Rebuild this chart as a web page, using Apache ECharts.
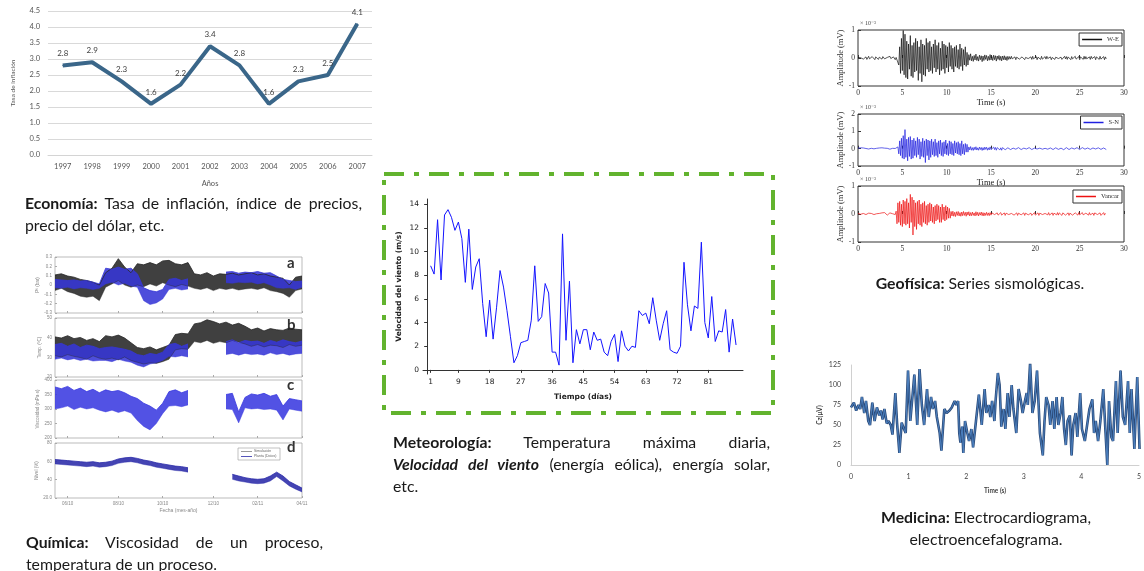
<!DOCTYPE html>
<html>
<head>
<meta charset="utf-8">
<script src="https://cdn.jsdelivr.net/npm/echarts/dist/echarts.min.js"></script>
<style>
    html, body { margin: 0; padding: 0; background: #fff; }
    #wrap { position: relative; width: 1144px; height: 571px; overflow: hidden; }
    #main { position: absolute; left: 0; top: 0; width: 1144px; height: 571px; }
    .cap { position: absolute; font-family: Lato, 'Open Sans', sans-serif; font-size: 15.8px; line-height: 22px; color: #1a1a1a; }
    .cap .j { text-align: justify; text-align-last: justify; white-space: nowrap; }
    .ctr { text-align: center; }
</style>
</head>
<body>
<div id="wrap">
    <div id="main"></div>
    <div class="cap" style="left:25px;top:192px;width:337px">
        <div class="j"><b>Economía:</b> Tasa de inflación, índice de precios,</div>
        <div>precio del dólar, etc.</div>
    </div>
    <div class="cap" style="left:26px;top:531px;width:297px">
        <div class="j"><b>Química:</b> Viscosidad de un proceso,</div>
        <div>temperatura de un proceso.</div>
    </div>
    <div class="cap" style="left:393px;top:431px;width:377px">
        <div class="j"><b>Meteorología:</b> Temperatura máxima diaria,</div>
        <div class="j"><b><i>Velocidad del viento</i></b> (energía eólica), energía solar,</div>
        <div>etc.</div>
    </div>
    <div class="cap ctr" style="left:830px;top:272px;width:300px">
        <b>Geofísica:</b> Series sismológicas.
    </div>
    <div class="cap ctr" style="left:836px;top:506px;width:300px">
        <b>Medicina:</b> Electrocardiograma,<br>electroencefalograma.
    </div>
</div>
<script>
// --- Economía: tasa de inflación
var ecoYears = ['1997', '1998', '1999', '2000', '2001', '2002', '2003', '2004', '2005', '2006', '2007'];
var ecoRate = [2.8, 2.9, 2.3, 1.6, 2.2, 3.4, 2.8, 1.6, 2.3, 2.5, 4.1];

// --- Meteorología: velocidad del viento (m/s), días 1..89
var windSpeed = [8.8, 8.1, 12.7, 7.6, 13.1, 13.55, 12.9, 11.8, 12.5, 11.1,
    7.4, 11.9, 6.8, 8.7, 9.4, 5.6, 2.8, 5.9, 2.6, 5.3,
    8.4, 7.0, 5.0, 2.8, 0.6, 1.2, 2.3, 2.4, 2.5, 4.2,
    8.8, 4.1, 4.5, 7.3, 6.5, 1.5, 1.5, 0.4, 11.5, 2.5,
    7.5, 0.6, 3.4, 2.2, 3.4, 3.4, 1.7, 3.2, 2.5, 2.6,
    1.5, 1.2, 2.4, 3.0, 0.7, 3.3, 2.0, 1.6, 2.0, 1.9,
    5.0, 4.6, 4.8, 3.9, 6.1, 4.2, 2.5, 3.9, 5.0, 1.7,
    1.5, 1.4, 2.0, 9.1, 5.5, 3.3, 5.4, 5.2, 10.8, 4.0,
    2.7, 6.2, 2.4, 3.3, 3.2, 5.1, 1.5, 4.3, 2.1];
var windTicks = [1, 9, 18, 27, 36, 45, 54, 63, 72, 81];

// --- Medicina: EEG canal Cz (tiempo s / valor uV)
var eegT = [0, .05, .09, .13, .16, .19, .23, .26, .30, .33, .37, .41, .45, .49, .52, .55, .58, .62, .65, .69,
    .72, .77, .80, .84, .88, .92, .95, .99, 1.03, 1.10, 1.15, 1.19, 1.23, 1.27, 1.32, 1.35, 1.39, 1.42, 1.46, 1.49,
    1.54, 1.57, 1.62, 1.66, 1.71, 1.75, 1.80, 1.83, 1.86, 1.88, 1.90, 1.93, 1.95, 1.98, 2.02, 2.05, 2.09, 2.12, 2.17, 2.22,
    2.27, 2.32, 2.35, 2.39, 2.42, 2.45, 2.49, 2.51, 2.55, 2.58, 2.61, 2.65, 2.68, 2.72, 2.75, 2.79, 2.82, 2.87, 2.91, 2.95,
    2.98, 3.02, 3.05, 3.07, 3.11, 3.15, 3.19, 3.23, 3.28, 3.33, 3.36, 3.39, 3.43, 3.46, 3.50, 3.53, 3.57, 3.60, 3.64, 3.67,
    3.70, 3.73, 3.76, 3.80, 3.83, 3.86, 3.90, 3.93, 3.98, 4.01, 4.06, 4.11, 4.14, 4.19, 4.22, 4.25, 4.29, 4.33, 4.38, 4.42,
    4.45, 4.48, 4.52, 4.55, 4.60, 4.63, 4.68, 4.72, 4.76, 4.81, 4.84, 4.87, 4.92, 4.97, 5.01];
var eegV = [72, 78, 68, 75, 70, 85, 65, 80, 55, 50, 78, 55, 72, 62, 68, 57, 70, 52, 55, 50,
    38, 90, 52, 15, 53, 45, 40, 118, 55, 113, 50, 120, 75, 50, 95, 60, 85, 70, 80, 60,
    40, 18, 70, 65, 68, 72, 80, 75, 80, 40, 28, 48, 15, 55, 40, 30, 45, 22, 55, 88,
    50, 95, 65, 75, 60, 80, 55, 80, 115, 100, 48, 70, 45, 90, 60, 100, 70, 40, 95, 80,
    65, 80, 90, 75, 128, 65, 80, 118, 40, 12, 55, 85, 75, 50, 80, 45, 85, 50, 65, 85,
    45, 25, 55, 62, 12, 50, 65, 35, 90, 45, 30, 55, 70, 82, 40, 55, 30, 55, 95, 40,
    0, 80, 35, 30, 105, 40, 118, 60, 50, 105, 40, 95, 20, 110, 20];

// --- Geofísica: amplitud (x10^-3 mV, en centésimas), paso 0.1 s, 0..28 s
var seisStep = 0.1;
var seisWE = [
    2, -3, 4, 1, -2, 5, -4, 3, -1, 4, -5, 2, 6, -3, 1, -4, 5, -2, 3, -6, 4, -1, 2, -5, 3, 6, -2, -4, 5, 1,
    -3, 4, -5, 2, 3, -4, 6, -2, 1, -5, 4, 3, -6, 2, -3,
    8, -25, 40, -55, 70, -45, 98, -60, 85, -70, 60, -75, 50, -40, 80, -65, 45, -70, 55, -50,
    70, -45, 60, -80, 40, -55, 65, -85, 50, -60, 45, -65, 70, -40, 55, -50, 60, -45, 40, -55,
    50, -35, 65, -50, 45, -40, 55, -60, 35, -45, 60, -40, 50, -55, 45, -35, 40, -50, 55, -30,
    45, -40, 35, -50, 40, -30, 45, -35, 30, -40, 50, -30, 35, -45, 30, -25, 40, -30, 20, -25,
    12, -8, 15, -10, 6, -12, 9, -7, 14, -9, 5, -11, 10, -6, 8, -13, 7, -9, 11, -5, 9, -10, 6, -8, 12,
    -7, 5, -9, 10, -6, 8, -11, 7, -5, 9, -8, 6, -10, 7, -6, 8, -7, 5, -9, 6, -5,
    5, -4, 6, -3, 2, -5, 4, -6, 3, -2, 6, -4, 1, -5, 4, -3, 5, -6, 2, -4, 5, -2, 3, -6, 4, -5, 6, -3, 2, -4,
    5, -6, 3, -2, 4, -5, 6, -4, 1, -3, 5, -4, 6, -2, 3, -5, 4, -6, 2, -3, 6, -5, 3, -4, 5, -2, 4, -6, 3, -5,
    2, -4, 6, -3, 5, -5, 4, -2, 3, -6, 5, -3, 4, -5, 6, -4, 2, -3, 5, -6, 4, -2, 3, -5, 6, -4, 5, -3, 2, -6,
    4, -5, 6, -2, 3, -4, 5, -6, 4, -3, 2, -5, 6, -4, 3, -2, 5, -6, 4, -3];
var seisSN = [
    3, -4, 2, 5, -3, -1, 4, -5, 3, 1, -4, 6, -2, 3, -5, 2, 4, -3, -1, 5, -4, 2, 3, -6, 4, 1, -3, 5, -2, -4,
    3, 6, -5, 2, -1, 4, -3, 5, -6, 2, 3, -4, 1, 5, -3,
    10, -30, 45, -40, 60, -55, 75, -60, 110, -50, 55, -70, 65, -45, 70, -60, 50, -55, 60, -40,
    45, -50, 65, -35, 55, -60, 40, -45, 60, -50, 45, -80, 55, -40, 50, -65, 45, -50, 55, -35,
    40, -45, 55, -40, 35, -50, 45, -30, 50, -40, 35, -45, 40, -30, 50, -35, 30, -40, 45, -30,
    40, -35, 30, -40, 45, -25, 35, -30, 40, -35, 30, -40, 45, -30, 25, -35, 30, -20, 25, -20,
    10, -7, 12, -9, 6, -10, 8, -6, 11, -8, 5, -9, 9, -5, 7, -10, 6, -8, 9, -4, 8, -9, 5, -7, 10,
    -6, 4, -8, 9, -5, 7, -9, 6, -4, 8, -7, 5, -9, 6, -5, 7, -6, 4, -8, 5, -4,
    4, -5, 6, -2, 3, -6, 5, -3, 4, -4, 6, -3, 2, -5, 5, -4, 3, -6, 4, -2, 5, -4, 6, -3, 2, -5, 4, -6, 3, -4,
    6, -2, 4, -5, 3, -6, 5, -3, 4, -5, 2, -4, 6, -3, 5, -2, 4, -6, 3, -5, 4, -3, 5, -6, 2, -4, 6, -5, 3, -2,
    5, -6, 4, -3, 6, -4, 2, -5, 5, -3, 4, -6, 3, -2, 5, -4, 6, -3, 4, -5, 3, -4, 6, -5, 2, -3, 5, -6, 4, -2,
    6, -4, 3, -5, 4, -6, 5, -2, 3, -4, 5, -3, 6, -4, 2, -5, 4, -6, 3, -5];
var seisVA = [
    2, -3, 4, -1, 3, -4, 2, 5, -3, -2, 4, -5, 3, 1, -4, 2, -3, 5, -2, 4, -3, 1, 5, -4, 2, -5, 3, 4, -2, -3,
    5, -1, 2, -4, 3, -5, 4, 2, -3, 1, -4, 3, -2,
    10, -35, 40, -30, 45, -40, 35, -45, 50, -35, 45, -40, 55, -35, 40, -50, 70, -30, 60, -75,
    50, -45, 40, -55, 45, -35, 50, -40, 35, -45, 40, -30, 45, -35, 30, -40, 35, -30, 40, -25,
    35, -30, 25, -35, 30, -25, 35, -20, 30, -30, 25, -30, 35, -20, 25, -25, 30, -20, 25, -15, 20, -15,
    9, -7, 10, -8, 6, -9, 8, -5, 9, -7, 5, -8, 7, -6, 9, -5, 6, -8, 7, -4, 8, -7, 5, -6, 7,
    -5, 4, -7, 8, -5, 6, -7, 5, -4, 7, -6, 5, -7, 4, -5, 6, -5, 4, -6, 5, -4,
    4, -3, 5, -2, 3, -5, 4, -4, 2, -3, 5, -4, 3, -2, 4, -5, 3, -3, 5, -2, 4, -5, 2, -3, 5, -4, 3, -2, 4, -5,
    3, -4, 5, -3, 2, -4, 4, -5, 3, -2, 5, -3, 4, -4, 3, -5, 2, -3, 5, -4, 3, -2, 4, -5, 3, -4, 5, -2, 4, -3,
    2, -5, 4, -3, 5, -4, 3, -2, 4, -5, 3, -4, 2, -3, 5, -4, 4, -2, 3, -5, 4, -3, 5, -4, 2, -3, 4, -5, 3, -2,
    5, -4, 3, -5, 4, -2, 3, -4, 5, -3, 2, -4, 5, -3, 4, -5, 3, -2, 4, -4, 5, -3, 2, -4, 3, -5, 4, -3, 5, -2,
    3, -4, 4, -5, 2, -3, 5, -4, 3, -2];

// --- Química: bandas (mínimo / máximo) en escala 0-100 de cada panel, 40 muestras
var chemALoBlack = [40, 44, 38, 35, 30, 28, 30, 22, 46, 52, 58, 50, 46, 50, 47, 52, 48, 54, 50, 47,
    51, 48, 44, 42, 45, 40, 44, 42, 44, 41, 43, 44, 42, 45, 40, 38, 35, 28, 40, 43];
var chemAHiBlack = [68, 70, 66, 64, 60, 58, 55, 50, 72, 80, 97, 82, 72, 88, 86, 90, 86, 93, 94, 88,
    86, 90, 70, 68, 72, 66, 70, 69, 71, 68, 70, 72, 68, 70, 66, 64, 62, 50, 64, 66];
var chemALoBlue = [45, 44, 46, 43, 45, 44, 42, 44, 52, 55, 50, 53, 48, 46, 22, 15, 18, 25, 42, 44,
    41, 43, null, null, null, null, null, 54, 53, 55, 54, 55, 52, 54, 50, 45, 44, 45, 42, 46];
var chemAHiBlue = [60, 59, 58, 59, 57, 58, 55, 52, 80, 78, 82, 78, 80, 70, 45, 40, 38, 42, 60, 62,
    58, 61, null, null, null, null, null, 73, 74, 71, 73, 72, 74, 71, 72, 66, 60, 58, 56, 57];
var chemBLoBlack = [36, 34, 38, 35, 33, 30, 36, 32, 30, 32, 29, 34, 28, 25, 22, 24, 23, 26, 30, 46,
    48, 47, 60, 58, 62, 57, 60, 58, 62, 59, 56, 52, 55, 51, 54, 53, 50, 55, 52, 54];
var chemBHiBlack = [68, 66, 70, 65, 67, 62, 65, 60, 70, 68, 71, 66, 58, 50, 48, 51, 46, 50, 54, 72,
    74, 73, 90, 92, 97, 94, 90, 93, 88, 91, 86, 80, 83, 78, 82, 80, 79, 83, 81, 80];
var chemBLoBlue = [30, 32, 29, 31, 28, 30, 27, 28, 28, 26, 30, 27, 25, 20, 17, 22, 24, 28, 35, 34,
    36, 34, null, null, null, null, null, 38, 40, 37, 40, 38, 39, 37, 41, 38, 40, 37, 39, 40];
var chemBHiBlue = [55, 57, 52, 56, 50, 54, 52, 48, 50, 51, 49, 47, 44, 38, 36, 40, 38, 42, 55, 57,
    52, 56, null, null, null, null, null, 60, 63, 58, 62, 60, 61, 57, 62, 59, 63, 60, 58, 61];
var chemCLoBlue = [50, 52, 55, 49, 53, 50, 52, 48, 45, 48, 44, 47, 43, 30, 20, 14, 25, 42, 55, 56,
    54, 57, null, null, null, null, null, 50, 49, 26, 52, 50, 51, 49, 50, 48, 31, 50, 48, 46];
var chemCHiBlue = [88, 85, 89, 82, 86, 80, 84, 78, 83, 80, 82, 78, 72, 68, 60, 55, 48, 60, 80, 83,
    78, 82, null, null, null, null, null, 75, 77, 45, 70, 76, 74, 77, 72, 75, 55, 68, 66, 64];
var chemDLoBlue = [62, 61, 60, 59, 58, 57, 58, 56, 57, 59, 63, 65, 66, 64, 61, 59, 56, 54, 52, 50,
    49, 47, null, null, null, null, null, null, 34, 31, 29, 27, 26, 27, 31, 39, 31, 22, 16, 11];
var chemDHiBlue = [70, 69, 68, 67, 66, 65, 66, 64, 65, 67, 71, 73, 74, 72, 69, 67, 64, 62, 60, 58,
    57, 55, null, null, null, null, null, null, 43, 40, 37, 35, 34, 35, 40, 47, 40, 30, 24, 18];
var chemLabelsA = ['-0.3', '-0.2', '-0.1', '0', '0.1', '0.2', '0.3'];
var chemLabelsB = ['20', '30', '40', '50'];
var chemLabelsC = ['200', '250', '300', '350', '400'];
var chemLabelsD = ['20.0', '40', '60', '80'];
var chemDateIdx = [2, 10, 17, 25, 32, 39];
var chemDates = ['06/10', '08/10', '10/10', '12/10', '02/11', '04/11'];

var lato = "Lato, 'Open Sans', sans-serif";
var serif = "'Liberation Serif', 'DejaVu Serif', serif";
var dejavu = "'DejaVu Sans', Verdana, sans-serif";

function indexed(arr, step) {
    return arr.map(function (v, i) { return [i * step, v]; });
}

// muestras de los paneles de química (eje de categorías 0..39)
var chemCats = chemALoBlack.map(function (v, i) { return String(i); });

// banda rellena: serie base invisible + serie apilada con el grosor
function chemBand(gi, key, lo, hi, color) {
    var width = hi.map(function (h, i) { return h === null ? null : h - lo[i]; });
    return [
        { name: key + '-lo', type: 'line', xAxisIndex: gi, yAxisIndex: gi, stack: key, data: lo,
          symbol: 'none', lineStyle: { color: color, width: 0.6, opacity: 0.7 }, silent: true },
        { name: key + '-hi', type: 'line', xAxisIndex: gi, yAxisIndex: gi, stack: key, data: width,
          symbol: 'none', lineStyle: { color: color, width: 0.8 }, areaStyle: { color: color, opacity: 0.88 }, silent: true }
    ];
}

function chemXAxis(gi, showLabels) {
    var pick = function (i) { return chemDateIdx.indexOf(i) >= 0; };
    return {
        gridIndex: gi, type: 'category', data: chemCats, boundaryGap: false,
        axisLine: { show: false },
        axisTick: { show: true, inside: true, length: 2, interval: pick, lineStyle: { color: '#aaa' } },
        splitLine: { show: false },
        axisLabel: {
            show: showLabels, fontSize: 4.5, color: '#888', margin: 3, interval: pick,
            formatter: function (v, i) { return chemDates[chemDateIdx.indexOf(i)]; }
        },
        name: showLabels ? 'Fecha (mes-año)' : '', nameLocation: 'middle', nameGap: 10,
        nameTextStyle: { fontSize: 5, color: '#888' }
    };
}

function chemYAxis(gi, labels, title) {
    var step = 100 / (labels.length - 1);
    return {
        gridIndex: gi, type: 'value', min: 0, max: 100, interval: step,
        axisLine: { show: false },
        axisTick: { show: true, inside: true, length: 2, lineStyle: { color: '#aaa' } },
        splitLine: { show: false },
        axisLabel: { fontSize: 4.5, color: '#888', margin: 3, formatter: function (v) { return labels[Math.round(v / step)]; } },
        name: title, nameLocation: 'middle', nameGap: 13, nameTextStyle: { fontSize: 4.5, color: '#888' }
    };
}

function seisXAxis(gi, withName) {
    return {
        gridIndex: gi, type: 'value', min: 0, max: 30, interval: 5,
        axisLine: { show: false },
        axisTick: { show: true, inside: true, length: 3, lineStyle: { color: '#333' } },
        splitLine: { show: false },
        axisLabel: { fontSize: 7.5, color: '#333', fontFamily: serif, margin: 3 },
        name: withName ? 'Time (s)' : '', nameLocation: 'middle', nameGap: 8,
        nameTextStyle: { fontSize: 8.5, color: '#222', fontFamily: serif }
    };
}

function seisYAxis(gi, min, max) {
    return {
        gridIndex: gi, type: 'value', min: min, max: max, interval: 100,
        axisLine: { show: false },
        axisTick: { show: true, inside: true, length: 3, lineStyle: { color: '#333' } },
        splitLine: { show: false },
        axisLabel: { fontSize: 7.5, color: '#333', fontFamily: serif, margin: 3, formatter: function (v) { return String(v / 100); } },
        name: 'Amplitude (mV)', nameLocation: 'middle', nameGap: 13,
        nameTextStyle: { fontSize: 8.5, color: '#333', fontFamily: serif }
    };
}

function seisLegend(name, top) {
    return {
        data: [name], right: 22, top: top, orient: 'horizontal', icon: 'rect',
        backgroundColor: '#fff', borderColor: '#333', borderWidth: 1, padding: [3, 3],
        itemWidth: 20, itemHeight: 1.5, itemGap: 2,
        textStyle: { fontSize: 6.5, color: '#333', fontFamily: serif }
    };
}

var series = [
    {
        name: 'Tasa', type: 'line', xAxisIndex: 0, yAxisIndex: 0, data: ecoRate,
        symbol: 'circle', symbolSize: 1, showSymbol: true,
        lineStyle: { color: '#3a6689', width: 4 }, itemStyle: { color: '#3a6689' },
        label: { show: true, position: 'top', distance: 7, fontSize: 8, color: '#404040', fontFamily: lato }
    }
];
series = series.concat(
    chemBand(1, 'aK', chemALoBlack, chemAHiBlack, '#262626'),
    chemBand(1, 'aB', chemALoBlue, chemAHiBlue, '#3636d6'),
    chemBand(2, 'bK', chemBLoBlack, chemBHiBlack, '#262626'),
    chemBand(2, 'bB', chemBLoBlue, chemBHiBlue, '#3636d6'),
    chemBand(3, 'cB', chemCLoBlue, chemCHiBlue, '#3a3ae0'),
    chemBand(4, 'dB', chemDLoBlue, chemDHiBlue, '#2a2aa8')
);
series = series.concat([
    {
        name: 'Viento', type: 'line', xAxisIndex: 5, yAxisIndex: 5,
        data: windSpeed.map(function (v, i) { return [i + 1, v]; }),
        symbol: 'none', lineStyle: { color: '#1414ff', width: 1 }
    },
    { name: 'W-E', type: 'line', xAxisIndex: 6, yAxisIndex: 6, data: indexed(seisWE, seisStep), symbol: 'none', color: '#111', lineStyle: { color: '#111', width: 0.7 } },
    { name: 'S-N', type: 'line', xAxisIndex: 7, yAxisIndex: 7, data: indexed(seisSN, seisStep), symbol: 'none', color: '#2020e0', lineStyle: { color: '#2020e0', width: 0.7 } },
    { name: 'Vancar', type: 'line', xAxisIndex: 8, yAxisIndex: 8, data: indexed(seisVA, seisStep), symbol: 'none', color: '#ee1111', lineStyle: { color: '#ee1111', width: 0.7 } },
    {
        name: 'Cz', type: 'line', xAxisIndex: 9, yAxisIndex: 9,
        data: eegT.map(function (t, i) { return [t, eegV[i]]; }),
        symbol: 'none', lineStyle: { color: '#2b4a78', width: 2.6 }
    },
    {
        name: 'Cz-hl', type: 'line', xAxisIndex: 9, yAxisIndex: 9,
        data: eegT.map(function (t, i) { return [t, eegV[i]]; }),
        symbol: 'none', lineStyle: { color: '#4f86c6', width: 0.9 }
    }
]);

var option = {
    animation: false,
    backgroundColor: '#fff',
    legend: [seisLegend('W-E', 33), seisLegend('S-N', 116), seisLegend('Vancar', 190)],
    grid: [
        { left: 48, top: 11, width: 324, height: 144 },
        { left: 55, top: 257, width: 247, height: 56, show: true, borderColor: '#aaa', borderWidth: 0.8 },
        { left: 55, top: 318, width: 247, height: 59, show: true, borderColor: '#aaa', borderWidth: 0.8 },
        { left: 55, top: 380, width: 247, height: 58, show: true, borderColor: '#aaa', borderWidth: 0.8 },
        { left: 55, top: 443, width: 247, height: 55, show: true, borderColor: '#aaa', borderWidth: 0.8 },
        { left: 423, top: 199, width: 320, height: 175 },
        { left: 858, top: 30, width: 266, height: 56, show: true, borderColor: '#333', borderWidth: 1 },
        { left: 858, top: 114, width: 266, height: 52, show: true, borderColor: '#333', borderWidth: 1 },
        { left: 858, top: 186, width: 266, height: 56, show: true, borderColor: '#333', borderWidth: 1 },
        { left: 851, top: 365, width: 290, height: 100 }
    ],
    xAxis: [
        {
            gridIndex: 0, type: 'category', data: ecoYears, boundaryGap: true,
            axisLine: { lineStyle: { color: '#d4d4d4' } }, axisTick: { show: false },
            axisLabel: { fontSize: 7.5, color: '#555', fontFamily: lato, margin: 8 },
            name: 'Años', nameLocation: 'middle', nameGap: 25,
            nameTextStyle: { fontSize: 7.5, color: '#555', fontFamily: lato }
        },
        chemXAxis(1, false), chemXAxis(2, false), chemXAxis(3, false), chemXAxis(4, true),
        {
            gridIndex: 5, type: 'value', min: -1.2, max: 91,
            axisLine: { lineStyle: { color: '#333', width: 1 } },
            axisTick: { show: true, length: 3, customValues: windTicks, lineStyle: { color: '#333' } },
            splitLine: { show: false },
            axisLabel: { customValues: windTicks, fontSize: 7.5, color: '#222', fontFamily: dejavu, margin: 4 },
            name: 'Tiempo (días)', nameLocation: 'middle', nameGap: 19,
            nameTextStyle: { fontSize: 7.5, fontWeight: 'bold', color: '#222', fontFamily: dejavu }
        },
        seisXAxis(6, true), seisXAxis(7, true), seisXAxis(8, false),
        {
            gridIndex: 9, type: 'value', min: 0, max: 5, interval: 1,
            axisLine: { lineStyle: { color: '#d0d0d0' } }, axisTick: { show: false },
            splitLine: { show: false },
            axisLabel: { fontSize: 7, color: '#444', fontFamily: lato, margin: 8 },
            name: 'Time (s)', nameLocation: 'middle', nameGap: 22,
            nameTextStyle: { fontSize: 6.5, fontWeight: 'bold', color: '#444', fontFamily: lato }
        }
    ],
    yAxis: [
        {
            gridIndex: 0, type: 'value', min: 0, max: 4.5, interval: 0.5,
            axisLine: { show: false }, axisTick: { show: false },
            splitLine: { lineStyle: { color: '#d9d9d9' } },
            axisLabel: { fontSize: 7.5, color: '#555', fontFamily: lato, margin: 8, formatter: function (v) { return v.toFixed(1); } },
            name: 'Tasa de inflación', nameLocation: 'middle', nameGap: 32,
            nameTextStyle: { fontSize: 6.5, color: '#555', fontFamily: lato }
        },
        chemYAxis(1, chemLabelsA, 'Pº (bar)'), chemYAxis(2, chemLabelsB, 'Temp. (ºC)'),
        chemYAxis(3, chemLabelsC, 'Viscosidad (mPa·s)'), chemYAxis(4, chemLabelsD, 'Nivel (%)'),
        {
            gridIndex: 5, type: 'value', min: -0.35, max: 14.45,
            axisLine: { show: true, lineStyle: { color: '#333', width: 1 } },
            axisTick: { show: true, length: 3, customValues: [0, 2, 4, 6, 8, 10, 12, 14], lineStyle: { color: '#333' } },
            splitLine: { show: false },
            axisLabel: { customValues: [0, 2, 4, 6, 8, 10, 12, 14], fontSize: 7.5, color: '#222', fontFamily: dejavu, margin: 4 },
            name: 'Velocidad del viento (m/s)', nameLocation: 'middle', nameGap: 20,
            nameTextStyle: { fontSize: 7.5, fontWeight: 'bold', color: '#222', fontFamily: dejavu }
        },
        seisYAxis(6, -100, 100), seisYAxis(7, -100, 200), seisYAxis(8, -100, 100),
        {
            gridIndex: 9, type: 'value', min: 0, max: 125, interval: 25,
            axisLine: { show: true, lineStyle: { color: '#d0d0d0' } }, axisTick: { show: false },
            splitLine: { show: false },
            axisLabel: { fontSize: 7, color: '#444', fontFamily: lato, margin: 10 },
            name: 'Cz(μV)', nameLocation: 'middle', nameGap: 28,
            nameTextStyle: { fontSize: 6.5, fontWeight: 'bold', color: '#444', fontFamily: lato }
        }
    ],
    series: series,
    graphic: [
        {
            type: 'rect', shape: { x: 384, y: 174, width: 389, height: 239 },
            style: { fill: 'none', stroke: '#62b32e', lineWidth: 4, lineDash: [20, 10, 5, 10] }
        },
        { type: 'text', x: 287, y: 256, style: { text: 'a', fontSize: 15, fontWeight: 'bold', fill: '#333', fontFamily: lato } },
        { type: 'text', x: 287, y: 318, style: { text: 'b', fontSize: 15, fontWeight: 'bold', fill: '#333', fontFamily: lato } },
        { type: 'text', x: 287, y: 378, style: { text: 'c', fontSize: 15, fontWeight: 'bold', fill: '#333', fontFamily: lato } },
        { type: 'text', x: 287, y: 440, style: { text: 'd', fontSize: 15, fontWeight: 'bold', fill: '#333', fontFamily: lato } },
        { type: 'rect', shape: { x: 238, y: 448, width: 42, height: 12 }, style: { fill: '#fff', stroke: '#999', lineWidth: 0.6 } },
        { type: 'line', shape: { x1: 241, y1: 451.5, x2: 252, y2: 451.5 }, style: { stroke: '#555', lineWidth: 0.6 } },
        { type: 'line', shape: { x1: 241, y1: 456.5, x2: 252, y2: 456.5 }, style: { stroke: '#2a2aa8', lineWidth: 0.8 } },
        { type: 'text', x: 254, y: 449, style: { text: 'Simulación', fontSize: 3.5, fill: '#666' } },
        { type: 'text', x: 254, y: 454, style: { text: 'Planta (Datos)', fontSize: 3.5, fill: '#666' } },
        { type: 'text', x: 860, y: 20, style: { text: '× 10⁻³', fontSize: 6, fill: '#444', fontFamily: serif } },
        { type: 'text', x: 860, y: 104, style: { text: '× 10⁻³', fontSize: 6, fill: '#444', fontFamily: serif } },
        { type: 'text', x: 860, y: 176, style: { text: '× 10⁻³', fontSize: 6, fill: '#444', fontFamily: serif } }
    ]
};

var chart = echarts.init(document.getElementById('main'));
chart.setOption(option);
</script>
</body>
</html>
